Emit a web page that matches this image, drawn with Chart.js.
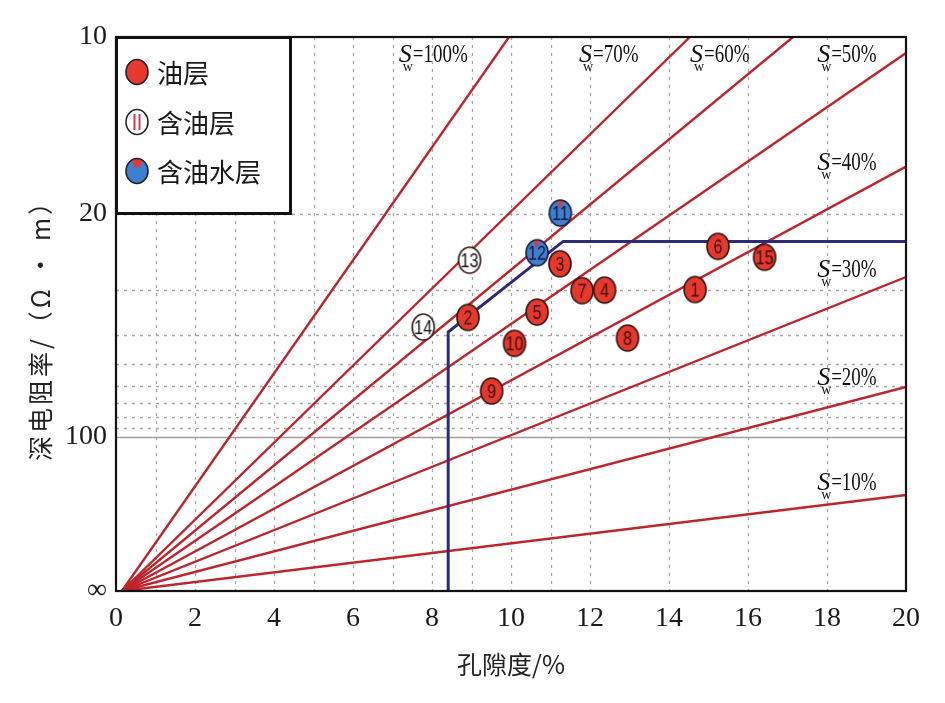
<!DOCTYPE html>
<html><head><meta charset="utf-8">
<script src="https://cdn.jsdelivr.net/npm/chart.js@4.4.1/dist/chart.umd.min.js"></script>
<style>html,body{margin:0;padding:0;background:#fff;}canvas{display:block;}</style>
</head><body>
<canvas id="c" width="945" height="703"></canvas>
<script>
// ---------- data ----------
const M_EXP = 1.8; // y axis is linear in (10/R)^(1/M_EXP)
const xTicks = [0,2,4,6,8,10,12,14,16,18,20];
const yTickValues = [10,20,100,Infinity];
const yTickLabels = ['10','20','100','∞'];
const xGridValues = [1,2,3,4,5,6,7,8,9,10,11,12,14,16,18];
const yGridDotted = [20,30,40,50,60,70,80,90];
const yGridSolid = [100];

const swLabels = ['100%','70%','60%','50%','40%','30%','20%','10%'];
const swOriginPhi = 0.15;
const swEndPhi = [9.95,14.53,17.14,20,20,20,20,20];
const swEndR   = [10,10,10,10.54,16.15,27.8,60.4,234.5];
const swLabelPhi = [7.16,11.72,14.53,17.75,17.75,17.75,17.75,17.75];
const swLabelR   = [10.87,10.87,10.87,10.87,16.39,27.8,59.4,214];

const boundaryPhi = [8.41,8.41,11.32,20];
const boundaryR   = [Infinity,39.3,22.9,22.9];

const oilIds = [1,2,3,4,5,6,7,8,9,10,15];
const oilPhi = [14.66,8.91,11.24,12.37,10.66,15.24,11.80,12.95,9.51,10.09,16.42];
const oilR   = [29.9,35.6,25.8,30.0,34.4,23.5,30.1,41.0,62.6,42.6,24.9];

const oilBearingIds = [13,14];
const oilBearingPhi = [8.95,7.78];
const oilBearingR   = [25.3,38.0];

const oilWaterIds = [11,12];
const oilWaterPhi = [11.25,10.66];
const oilWaterR   = [19.9,24.3];

const legendLabels = ['油层','含油层','含油水层'];
const xTitle = '孔隙度/%';
const yTitle = '深电阻率/（Ω • m）';

// ---------- helpers ----------
function toU(R){ return R===Infinity ? 0 : Math.pow(10/R, 1/M_EXP); }
const RED='#e6382c', BLUE='#3e7fd3', LINE_RED='#bd252c', NAVY='#2e2a7a';

function ellipsePath(ctx,cx,cy,rx,ry){ctx.beginPath();ctx.ellipse(cx,cy,rx,ry,0,0,Math.PI*2);}

function makeMarker(num,type){
  const c=document.createElement('canvas'); c.width=26; c.height=30;
  const g=c.getContext('2d'); const cx=13, cy=15, rx=11, ry=13;
  ellipsePath(g,cx,cy,rx,ry);
  g.fillStyle = type==='oil'?RED:(type==='water'?BLUE:'#ffffff'); g.fill();
  if(type==='water'){
    g.beginPath(); g.moveTo(cx-3,cy-ry+1.5); g.lineTo(cx+3,cy-ry+1); g.lineTo(cx-1,cy-ry+9); g.closePath();
    g.fillStyle=RED; g.fill();
  }
  ellipsePath(g,cx,cy,rx,ry); g.lineWidth=1.6; g.strokeStyle= type==='water'?'#14183a':'#2a1410'; g.stroke();
  g.save(); g.translate(cx,cy+1); g.scale(0.76,1);
  g.font='21px "Liberation Sans", Arial, sans-serif'; g.textAlign='center'; g.textBaseline='middle';
  g.fillStyle = type==='oil'?'#3a0e0c':(type==='water'?'#101838':'#111');
  g.fillText(String(num),0,0); g.restore();
  return c;
}

function drawLegendMarker(ctx,cx,cy,type){
  const rx=11, ry=12.5;
  ctx.save();
  ellipsePath(ctx,cx,cy,rx,ry);
  ctx.fillStyle= type==='oil'?RED:(type==='water'?BLUE:'#fff'); ctx.fill();
  if(type==='water'){
    ctx.save(); ellipsePath(ctx,cx,cy,rx,ry); ctx.clip();
    ctx.beginPath(); ctx.ellipse(cx,cy-ry+3,4.5,6,0,0,Math.PI*2); ctx.fillStyle=RED; ctx.fill();
    ctx.restore();
  }
  if(type==='bearing'){
    ctx.strokeStyle='#d83a4a'; ctx.lineWidth=2;
    ctx.beginPath(); ctx.moveTo(cx-2.5,cy-8); ctx.lineTo(cx-2.5,cy+8); ctx.moveTo(cx+2.5,cy-8); ctx.lineTo(cx+2.5,cy+8); ctx.stroke();
  }
  ellipsePath(ctx,cx,cy,rx,ry); ctx.lineWidth=1.6; ctx.strokeStyle='#222'; ctx.stroke();
  ctx.restore();
}

function drawSw(ctx,px,py,txt){
  ctx.save(); ctx.fillStyle='#111'; ctx.textBaseline='alphabetic'; ctx.textAlign='left';
  ctx.font='italic 26px "Liberation Serif", "DejaVu Serif", serif';
  ctx.fillText('S',px,py);
  const sw=ctx.measureText('S').width;
  ctx.font='14px "Liberation Serif", serif';
  ctx.fillText('w',px+sw-9,py+9);
  ctx.font='25px "Liberation Serif", serif';
  ctx.translate(px+sw+1,py); ctx.scale(0.76,1);
  ctx.fillText('='+txt,0,0);
  ctx.restore();
}

// ---------- plugin ----------
const decor = {
  id:'decor',
  beforeDatasetsDraw(chart){
    const {ctx, chartArea:a, scales:{x,y}} = chart;
    ctx.save();
    ctx.strokeStyle='#a8a8a8'; ctx.lineWidth=1.3; ctx.setLineDash([3,5]);
    xGridValues.forEach(v=>{const p=Math.round(x.getPixelForValue(v))+0.5; ctx.beginPath(); ctx.moveTo(p,a.top); ctx.lineTo(p,a.bottom); ctx.stroke();});
    yGridDotted.forEach(v=>{const p=Math.round(y.getPixelForValue(toU(v)))+0.5; ctx.beginPath(); ctx.moveTo(a.left,p); ctx.lineTo(a.right,p); ctx.stroke();});
    ctx.setLineDash([]); ctx.strokeStyle='#a39c9c'; ctx.lineWidth=1.6;
    yGridSolid.forEach(v=>{const p=Math.round(y.getPixelForValue(toU(v)))+0.5; ctx.beginPath(); ctx.moveTo(a.left,p); ctx.lineTo(a.right,p); ctx.stroke();});
    ctx.restore();
  },
  afterDatasetsDraw(chart){
    const {ctx, chartArea:a, scales:{x,y}} = chart;
    swLabels.forEach((t,i)=>drawSw(ctx, x.getPixelForValue(swLabelPhi[i]), y.getPixelForValue(toU(swLabelR[i])), t));
    ctx.save(); ctx.strokeStyle='#111'; ctx.lineWidth=2.2;
    ctx.strokeRect(a.left,a.top,a.right-a.left,a.bottom-a.top);
    const lx=a.left, ly=a.top, lw=174, lh=176;
    ctx.fillStyle='#fff'; ctx.fillRect(lx,ly,lw,lh);
    ctx.lineWidth=3; ctx.strokeStyle='#111'; ctx.strokeRect(lx+0.5,ly+0.5,lw,lh);
    const types=['oil','bearing','water']; const ys=[35,85,134];
    ctx.font='26px "Noto Sans CJK SC", sans-serif'; ctx.fillStyle='#1a1a1a'; ctx.textBaseline='middle'; ctx.textAlign='left';
    legendLabels.forEach((t,i)=>{ drawLegendMarker(ctx,lx+21,ly+ys[i],types[i]); ctx.fillText(t,lx+41,ly+ys[i]+1); });
    ctx.font='25px "Noto Sans CJK SC", sans-serif'; ctx.textAlign='center'; ctx.textBaseline='middle'; ctx.fillStyle='#222';
    ctx.fillText(xTitle,(a.left+a.right)/2,664);
    ctx.translate(40,324); ctx.rotate(-Math.PI/2);
    if('letterSpacing' in ctx) ctx.letterSpacing='3px';
    ctx.fillText(yTitle,0,0);
    ctx.restore();
  }
};

// ---------- datasets ----------
const datasets=[];
swLabels.forEach((lab,i)=>datasets.push({
  label:'Sw='+lab, showLine:true, order:5,
  data:[{x:swOriginPhi,y:toU(Infinity)},{x:swEndPhi[i],y:toU(swEndR[i])}],
  borderColor:LINE_RED, borderWidth:2.4, pointRadius:0, fill:false
}));
datasets.push({label:'boundary', showLine:true, order:4,
  data:boundaryPhi.map((p,i)=>({x:p,y:toU(boundaryR[i])})),
  borderColor:NAVY, borderWidth:3, pointRadius:0, fill:false});
function pts(ids,phi,R,type,lab){
  return {label:lab, order:1, showLine:false,
    data:phi.map((p,i)=>({x:p,y:toU(R[i])})),
    pointStyle:ids.map(n=>makeMarker(n,type)), pointRadius:12};
}
datasets.push(pts(oilIds,oilPhi,oilR,'oil',legendLabels[0]));
datasets.push(pts(oilBearingIds,oilBearingPhi,oilBearingR,'bearing',legendLabels[1]));
datasets.push(pts(oilWaterIds,oilWaterPhi,oilWaterR,'water',legendLabels[2]));

const tickFont={family:'"Liberation Serif", "DejaVu Serif", serif', size:28};
new Chart(document.getElementById('c'),{
  type:'scatter',
  data:{datasets},
  options:{
    responsive:false, animation:false, devicePixelRatio:1, events:[],
    layout:{padding:{left:0,right:39,top:37,bottom:0}},
    plugins:{legend:{display:false}, tooltip:{enabled:false}},
    scales:{
      x:{type:'linear', min:0, max:20,
        afterBuildTicks:s=>{s.ticks=xTicks.map(v=>({value:v}));},
        afterFit:s=>{s.height=112;},
        ticks:{font:tickFont, color:'#1a1a1a', padding:11, maxRotation:0, autoSkip:false},
        grid:{display:false, drawTicks:false}, border:{display:false}},
      y:{type:'linear', min:0, max:1,
        afterBuildTicks:s=>{s.ticks=yTickValues.map(v=>({value:toU(v)}));},
        afterFit:s=>{s.width=116;},
        ticks:{font:tickFont, color:'#1a1a1a', padding:9, autoSkip:false,
          callback:(v)=>{const k=yTickValues.findIndex(t=>Math.abs(toU(t)-v)<1e-6); return k>=0?yTickLabels[k]:'';}},
        grid:{display:false, drawTicks:false}, border:{display:false}}
    }
  },
  plugins:[decor]
});
</script>
</body></html>
